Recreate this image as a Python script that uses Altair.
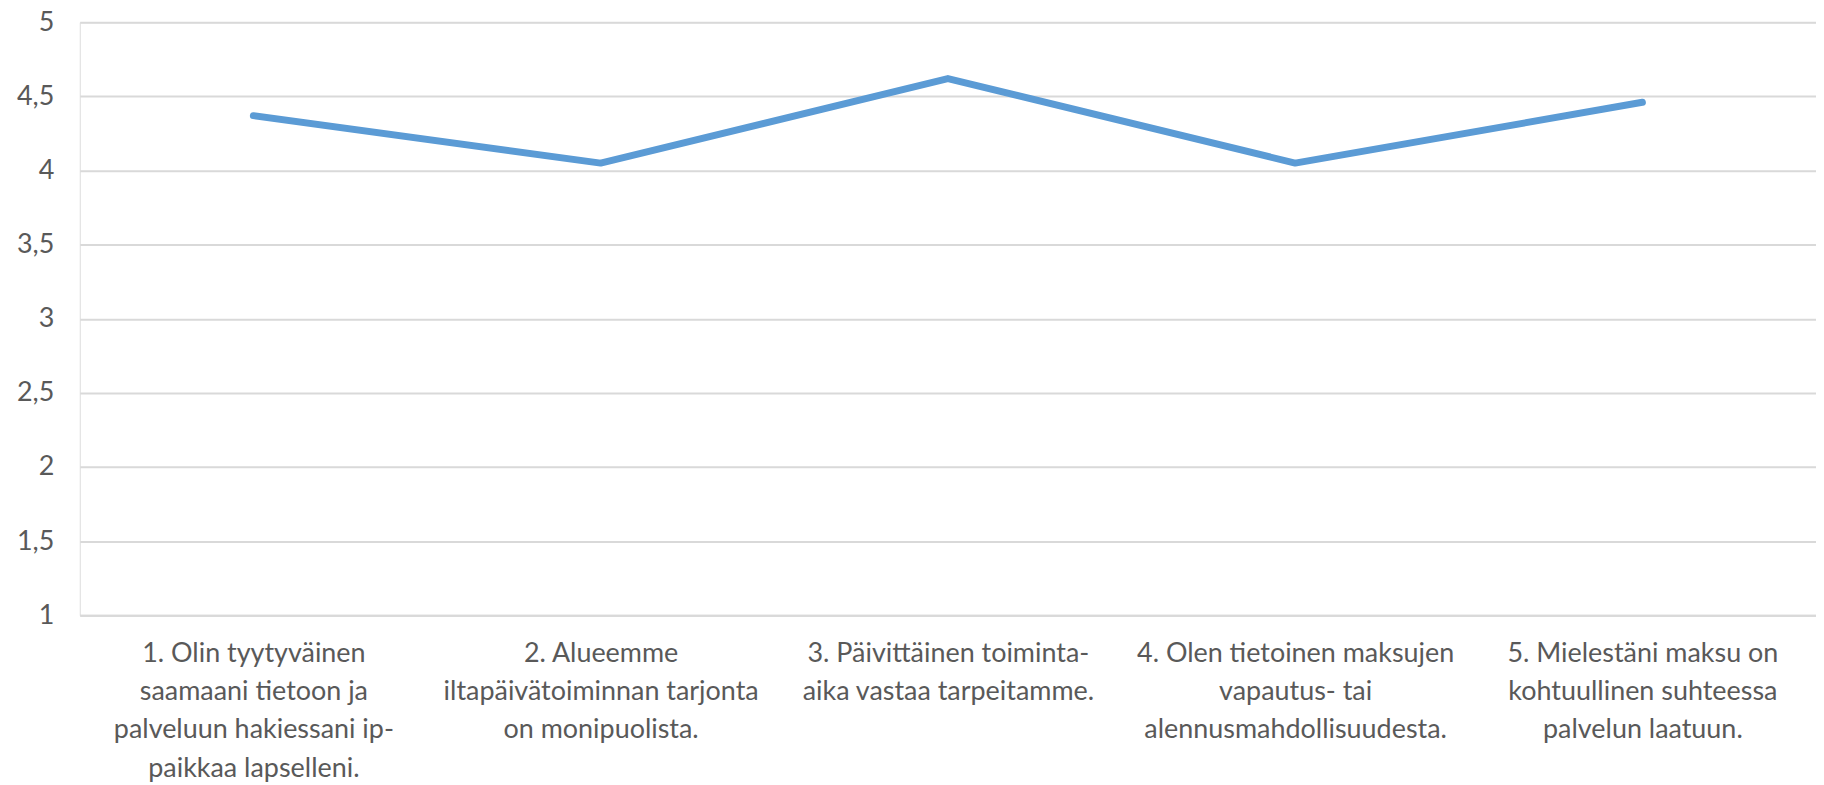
import altair as alt
import pandas as pd

labels = [
    "1. Olin tyytyväinen\nsaamaani tietoon ja\npalveluun hakiessani ip-\npaikkaa lapselleni.",
    "2. Alueemme\niltapäivätoiminnan tarjonta\non monipuolista.",
    "3. Päivittäinen toiminta-\naika vastaa tarpeitamme.",
    "4. Olen tietoinen maksujen\nvapautus- tai\nalennusmahdollisuudesta.",
    "5. Mielestäni maksu on\nkohtuullinen suhteessa\npalvelun laatuun.",
]
values = [4.37, 4.05, 4.62, 4.05, 4.46]
y_ticks = [1, 1.5, 2, 2.5, 3, 3.5, 4, 4.5, 5]

df = pd.DataFrame({"label": labels, "value": values, "order": list(range(len(labels)))})

FONT = "Lato"
TXT = "#595959"

chart = alt.Chart(df).mark_line(
    color="#5B9BD5", strokeWidth=7, strokeCap="round", strokeJoin="round"
).encode(
    x=alt.X("label:N", sort=labels, title=None,
            axis=alt.Axis(labelAngle=0, labelExpr="split(datum.label, '\\n')",
                          labelFont=FONT, labelFontSize=27, labelColor=TXT,
                          labelLineHeight=38.5, labelPadding=25, labelBaseline="top",
                          ticks=False, domain=True, domainColor="#D9D9D9", domainWidth=2,
                          labelLimit=400)),
    y=alt.Y("value:Q", scale=alt.Scale(domain=[1, 5], nice=False, zero=False), title=None,
            axis=alt.Axis(values=y_ticks,
                          labelExpr="replace(format(datum.value, '.1~f'), '.', ',')",
                          labelFont=FONT, labelFontSize=27, labelColor=TXT,
                          labelPadding=26, ticks=False, domain=False,
                          gridColor="#D9D9D9", gridWidth=2)),
    order="order:Q",
).properties(
    width=1742, height=595,
    autosize=alt.AutoSizeParams(type="none"),
    padding={"left": 72, "top": 13, "right": 0, "bottom": 169},
).configure_view(stroke=None).configure(background="white")

chart.save("out.html", embed_options={"renderer": "svg", "actions": False})
